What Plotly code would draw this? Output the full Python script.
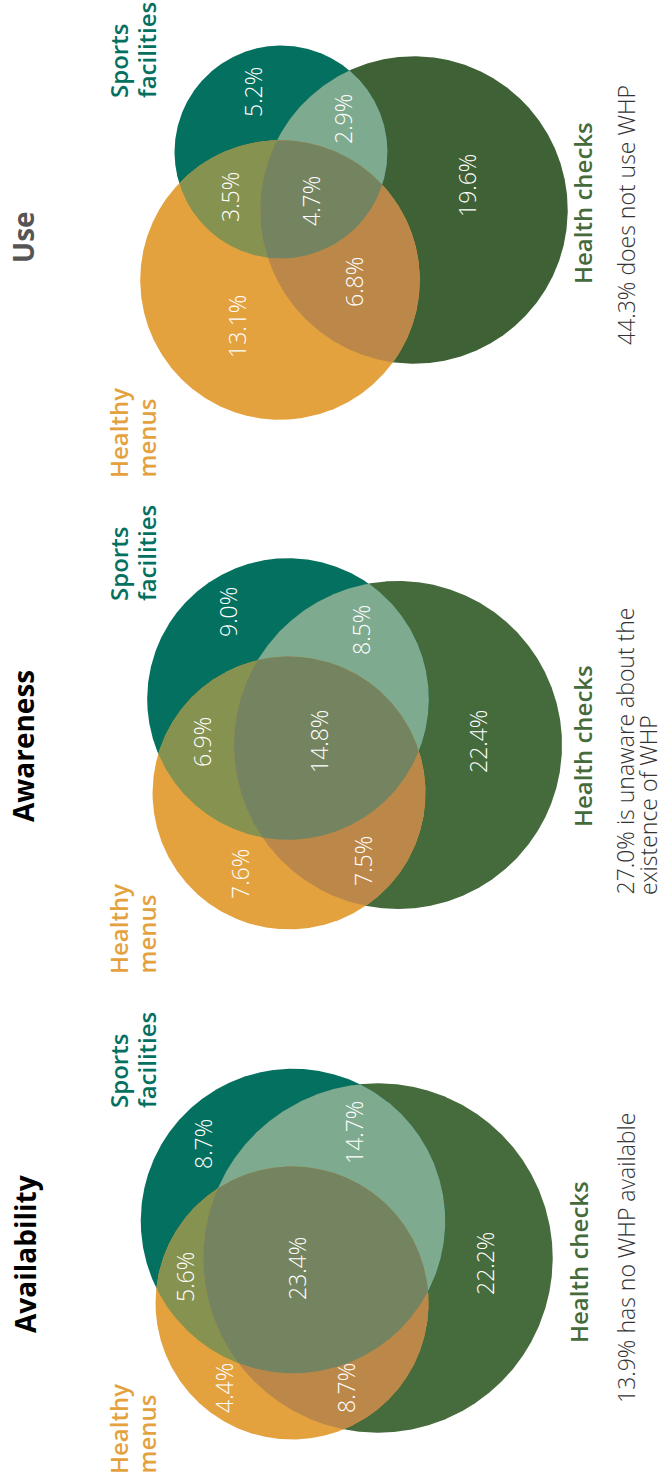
import numpy as np
import plotly.graph_objects as go

W, H = 663, 1482

# ---------------- data ----------------
panels = ["Use", "Awareness", "Availability"]
set_names = {"S": "Sports facilities", "H": "Health checks", "M": "Healthy menus"}
# region order: S only, S&H, S&M, S&H&M, H only, M only, M&H
regions = ["S", "SH", "SM", "SHM", "H", "M", "HM"]
use_values = [5.2, 2.9, 3.5, 4.7, 19.6, 13.1, 6.8]
awareness_values = [9.0, 8.5, 6.9, 14.8, 22.4, 7.6, 7.5]
availability_values = [8.7, 14.7, 5.6, 23.4, 22.2, 4.4, 8.7]
none_values = [44.3, 27.0, 13.9]
none_text = [["does not use WHP"], ["is unaware about the", "existence of WHP"], ["has no WHP available"]]

values = {"Use": use_values, "Awareness": awareness_values, "Availability": availability_values}

# ---------------- layout / style ----------------
AREA_SCALE = 38800.0  # px^2 given to the union of all regions
centers = {
    "Use": {"S": (281, 152), "H": (414, 210), "M": (280, 280)},
    "Awareness": {"S": (288, 699), "H": (398, 745), "M": (289, 793)},
    "Availability": {"S": (293, 1221), "H": (378, 1258), "M": (292, 1303)},
}
label_pos = {
    "Use": [(253, 92), (343, 119), (230, 197), (311, 201), (467, 186), (237, 327), (354, 282)],
    "Awareness": [(228, 612), (361, 630), (202, 742), (319, 742), (478, 742), (240, 874), (363, 861)],
    "Availability": [(203, 1144), (354, 1133), (185, 1277), (297, 1269), (485, 1264), (224, 1388), (346, 1388)],
}
title_pos = {"Use": (23, 237), "Awareness": (23, 746), "Availability": (25, 1254)}
title_color = {"Use": "#555555", "Awareness": "#000000", "Availability": "#000000"}
# bottom (start) of rotated two-line labels
sports_bottom = {"Use": 100, "Awareness": 603, "Availability": 1110}
menus_bottom = {"Use": 480, "Awareness": 976, "Availability": 1476}
health_pos = {"Use": (582, 203), "Awareness": (582, 746), "Availability": (578, 1262)}
note_pos = {"Use": (626, 347), "Awareness": (624, 897), "Availability": (626, 1405)}

health_fill = {"Use": "#3F6136", "Awareness": "#456A3B", "Availability": "#466B3C"}
colors = {
    "S": "#04705F", "M": "#E4A23F",
    "SH": "#7EAA8F", "SM": "#86924F", "HM": "#BC8849", "SHM": "#748460",
}
label_colors = {"H": "#456A3B", "S": "#04705F", "M": "#E4A23F"}
FONT = "Open Sans"
LIGHT = "Open Sans Light, Open Sans"


def circle_pts(c, r, n=1440):
    t = np.linspace(0, 2 * np.pi, n, endpoint=False)
    return c[0] + r * np.cos(t), c[1] + r * np.sin(t)


def intersection_poly(circles):
    xs, ys = [], []
    for i, (c, r) in enumerate(circles):
        px, py = circle_pts(c, r)
        keep = np.ones_like(px, dtype=bool)
        for j, (c2, r2) in enumerate(circles):
            if i != j:
                keep &= (px - c2[0]) ** 2 + (py - c2[1]) ** 2 <= r2 ** 2
        xs.append(px[keep]); ys.append(py[keep])
    x = np.concatenate(xs); y = np.concatenate(ys)
    cx, cy = x.mean(), y.mean()
    order = np.argsort(np.arctan2(y - cy, x - cx))
    x, y = x[order], y[order]
    return np.append(x, x[0]), np.append(y, y[0])


fig = go.Figure()
annotations = []

for p_i, p in enumerate(panels):
    v = values[p]
    union = sum(v)
    totals = {k: sum(val for reg, val in zip(regions, v) if k in reg) for k in "SHM"}
    radii = {k: np.sqrt(AREA_SCALE * totals[k] / union) for k in "SHM"}
    circ = {k: (centers[p][k], radii[k]) for k in "SHM"}

    for key in ["H", "S", "M", "SH", "SM", "HM", "SHM"]:
        x, y = intersection_poly([circ[k] for k in key])
        col = health_fill[p] if key == "H" else colors[key]
        fig.add_trace(go.Scatter(x=x, y=y, mode="lines", fill="toself",
                                 fillcolor=col, line=dict(width=0, color=col),
                                 hoverinfo="skip", showlegend=False))

    for (lx, ly), val in zip(label_pos[p], v):
        annotations.append(dict(x=lx, y=ly, text=f"{val:.1f}%", showarrow=False, textangle=-90,
                                xanchor="center", yanchor="middle",
                                font=dict(family=LIGHT, size=23, color="white", weight=300)))

    tx, ty = title_pos[p]
    annotations.append(dict(x=tx, y=ty, text=f"<b>{p}</b>", showarrow=False, textangle=-90,
                            xanchor="center", yanchor="middle",
                            font=dict(family=FONT, size=28, color=title_color[p])))

    for line_i, word in enumerate(["Sports", "facilities"]):
        annotations.append(dict(x=118 + 28 * line_i, y=sports_bottom[p], text=word, showarrow=False,
                                textangle=-90, xanchor="center", yanchor="bottom",
                                font=dict(family=FONT, size=24, color=label_colors["S"], weight=600)))
    for line_i, word in enumerate(["Healthy", "menus"]):
        annotations.append(dict(x=118 + 28 * line_i, y=menus_bottom[p], text=word, showarrow=False,
                                textangle=-90, xanchor="center", yanchor="bottom",
                                font=dict(family=FONT, size=24, color=label_colors["M"], weight=600)))
    hx, hy = health_pos[p]
    annotations.append(dict(x=hx, y=hy, text=set_names["H"], showarrow=False, textangle=-90,
                            xanchor="center", yanchor="middle",
                            font=dict(family=FONT, size=24, color=label_colors["H"], weight=600)))

    nx, ny = note_pos[p]
    lines = none_text[p_i]
    for line_i, line in enumerate(lines):
        txt = f"{none_values[p_i]:.1f}% {line}" if line_i == 0 else line
        annotations.append(dict(x=nx + 24 * line_i, y=ny, text=txt, showarrow=False, textangle=-90,
                                xanchor="center", yanchor="bottom",
                                font=dict(family=LIGHT, size=23, color="#333333", weight=300)))

fig.update_layout(
    width=W, height=H, margin=dict(l=0, r=0, t=0, b=0),
    paper_bgcolor="white", plot_bgcolor="white",
    xaxis=dict(range=[0, W], visible=False, fixedrange=True),
    yaxis=dict(range=[H, 0], visible=False, fixedrange=True),
    annotations=annotations, showlegend=False,
)
fig.write_html("out.html")
